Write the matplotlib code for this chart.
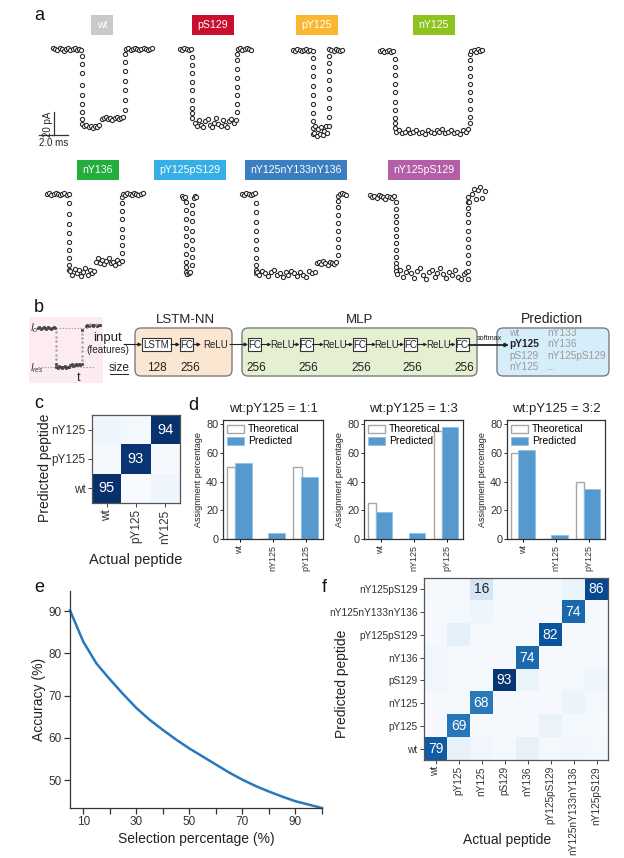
import matplotlib
matplotlib.use('Agg')
import matplotlib.pyplot as plt
import numpy as np
from matplotlib.patches import FancyBboxPatch, Rectangle

plt.rcParams['font.family'] = ['Liberation Sans', 'DejaVu Sans']
plt.rcParams['mathtext.fontset'] = 'custom'
plt.rcParams['mathtext.it'] = 'Liberation Sans:italic'

W, H = 624, 858

# ================= DATA =================
# ---- panel a: example translocation events (time in ms, current in pA relative to open pore)
a_labels = ['wt', 'pS129', 'pY125', 'nY125', 'nY136', 'pY125pS129', 'nY125nY133nY136', 'nY125pS129']
a_colors = ['#c9c9c9', '#c8102e', '#fbb731', '#8dc21f', '#22ad3c', '#35afe6', '#3b7fc2', '#b35ea6']

wt_t = [0, 0.15, 0.3, 0.45, 0.6, 0.75, 0.9, 1.05, 1.2, 1.35, 1.5, 1.65, 1.8, 1.95,
        1.97, 1.97, 1.97, 1.97, 1.97, 1.97, 1.97, 1.97,
        2.0, 2.15, 2.3, 2.45, 2.6, 2.75, 2.9, 3.05, 3.2,
        3.35, 3.5, 3.65, 3.8, 3.95, 4.1, 4.25, 4.4, 4.55, 4.7, 4.85,
        4.97, 4.97, 4.97, 4.97, 4.97, 4.97, 4.97,
        5.05, 5.2, 5.35, 5.5, 5.65, 5.8, 5.95, 6.1, 6.25, 6.4, 6.55, 6.7, 6.85]
wt_i = [1, 0, -1, 1, 0, -2, 0, 1, -1, 0, 1, -1, 0, -1,
        -6, -13, -21, -31, -40, -48, -55, -61,
        -65, -67, -66, -68, -67, -69, -67, -68, -66,
        -61, -60, -59, -61, -60, -62, -60, -59, -61, -60, -59,
        -53, -44, -36, -28, -19, -11, -4,
        0, 1, -1, 0, 1, 0, -1, 0, 1, 0, -1, 0, 1]

pS129_t = [0, 0.15, 0.3, 0.45, 0.6, 0.75,
           0.82, 0.82, 0.82, 0.82, 0.82, 0.82, 0.82, 0.82,
           0.85, 1.0, 1.15, 1.3, 1.45, 1.6, 1.75, 1.9, 2.05, 2.2, 2.35, 2.5, 2.65, 2.8, 2.95, 3.1,
           3.25, 3.4, 3.55, 3.7, 3.85,
           3.95, 3.95, 3.95, 3.95, 3.95, 3.95, 3.95, 3.95,
           4.0, 4.15, 4.3, 4.45, 4.6, 4.75, 4.9]
pS129_i = [0, -1, 1, 0, -1, 0,
           -7, -14, -21, -29, -36, -44, -51, -56,
           -60, -64, -67, -62, -66, -68, -63, -61, -66, -68, -64, -60, -65, -67, -62, -66,
           -68, -63, -61, -64, -62,
           -55, -48, -40, -33, -25, -17, -10, -4,
           0, 1, -1, 0, 1, 0, -1]

pY125_t = [0, 0.15, 0.3, 0.45, 0.6, 0.75, 0.9, 1.05, 1.2, 1.35,
           1.4, 1.4, 1.4, 1.4, 1.4, 1.4, 1.4, 1.4, 1.4, 1.4,
           1.45, 1.55, 1.65, 1.75, 1.85, 1.95, 2.05, 2.15, 2.25, 2.35,
           2.45, 2.45, 2.45, 2.45, 2.45, 2.45, 2.45, 2.45, 2.45,
           2.5, 2.65, 2.8, 2.95, 3.1, 3.25, 3.4]
pY125_i = [0, -1, 1, 0, -1, 0, 1, -1, 0, -1,
           -7, -15, -23, -31, -39, -47, -55, -62, -68, -73,
           -72, -66, -75, -69, -73, -67, -74, -70, -66, -72,
           -66, -58, -50, -42, -34, -26, -18, -11, -5,
           1, 0, -1, 1, 0, -1, 0]

nY125_t = [0, 0.15, 0.3, 0.45, 0.6, 0.75, 0.9,
           1.05, 1.05, 1.05, 1.05, 1.05, 1.05, 1.05, 1.05, 1.05, 1.05,
           1.1, 1.3, 1.5, 1.7, 1.9, 2.1, 2.3, 2.5, 2.7, 2.9, 3.1, 3.3, 3.5, 3.7, 3.9, 4.1,
           4.3, 4.5, 4.7, 4.9, 5.1, 5.3, 5.5, 5.7, 5.9, 6.1,
           6.2, 6.2, 6.2, 6.2, 6.2, 6.2, 6.2, 6.2, 6.2, 6.2,
           6.3, 6.45, 6.6, 6.75, 6.9, 7.05]
nY125_i = [0, 1, -1, 0, 1, -1, 0,
           -7, -14, -21, -29, -36, -44, -51, -58, -63, -67,
           -70, -69, -71, -70, -68, -71, -70, -69, -71, -70, -72, -69, -70, -71, -69, -70,
           -68, -71, -70, -69, -71, -70, -72, -69, -70, -68,
           -63, -57, -50, -43, -36, -29, -22, -15, -8, -3,
           0, 1, -1, 2, 0, 1]

nY136_t = [0, 0.15, 0.3, 0.45, 0.6, 0.75, 0.9, 1.05, 1.2, 1.35, 1.5,
           1.55, 1.55, 1.55, 1.55, 1.55, 1.55, 1.55, 1.55, 1.55,
           1.6, 1.75, 1.9, 2.05, 2.2, 2.35, 2.5, 2.65, 2.8, 2.95, 3.1, 3.25,
           3.35, 3.5, 3.65, 3.8, 3.95, 4.1, 4.25, 4.4, 4.55, 4.7, 4.85, 5.0, 5.15,
           5.2, 5.2, 5.2, 5.2, 5.2, 5.2, 5.2, 5.2,
           5.25, 5.4, 5.55, 5.7, 5.85, 6.0, 6.15, 6.3, 6.45, 6.6]
nY136_i = [0, 1, -1, 0, 1, 0, -1, 0, 1, -1, 0,
           -8, -17, -26, -34, -42, -49, -56, -62, -66,
           -67, -70, -65, -69, -66, -71, -68, -64, -70, -66, -69, -67,
           -59, -56, -60, -57, -61, -58, -56, -60, -59, -62, -57, -60, -58,
           -51, -44, -37, -30, -22, -15, -8, -3,
           0, -1, 1, 0, -1, 1, 0, -1, 0, 1]

pY125pS129_t = [0, 0.1, 0.2,
                0.28, 0.28, 0.28, 0.28, 0.28, 0.28, 0.28, 0.28, 0.28, 0.28,
                0.35, 0.45, 0.55,
                0.7, 0.7, 0.7, 0.7, 0.7, 0.7, 0.7, 0.7,
                0.8, 0.9, 1.0]
pY125pS129_i = [0, -2, -1,
                -5, -12, -20, -28, -35, -43, -50, -57, -62, -66,
                -68, -67, -66,
                -60, -53, -46, -38, -30, -22, -15, -8,
                -2, 0, -1]

nY125nY133nY136_t = [0, 0.15, 0.3, 0.45, 0.6, 0.75, 0.9,
                     0.95, 0.95, 0.95, 0.95, 0.95, 0.95, 0.95, 0.95, 0.95, 0.95,
                     1.0, 1.2, 1.4, 1.6, 1.8, 2.0, 2.2, 2.4, 2.6, 2.8, 3.0, 3.2, 3.4, 3.6, 3.8,
                     4.0, 4.2, 4.4, 4.6, 4.8, 5.0,
                     5.15, 5.3, 5.45, 5.6, 5.75, 5.9, 6.05, 6.2, 6.35, 6.5,
                     6.6, 6.6, 6.6, 6.6, 6.6, 6.6, 6.6, 6.6, 6.6,
                     6.75, 6.9, 7.05, 7.2]
nY125nY133nY136_i = [0, -1, 1, 0, -1, 0, 1,
                     -8, -16, -24, -32, -40, -48, -56, -62, -66, -69,
                     -68, -70, -67, -69, -71, -68, -66, -70, -69, -72, -68, -70, -67, -69, -71,
                     -68, -70, -72, -67, -69, -68,
                     -60, -59, -61, -58, -60, -62, -59, -60, -61, -59,
                     -53, -46, -39, -32, -25, -18, -11, -6, -2,
                     0, 1, 0, -1]

nY125pS129_t = [0, 0.15, 0.3, 0.45, 0.6, 0.75, 0.9, 1.05, 1.2, 1.35, 1.5, 1.65,
                1.8, 1.8, 1.8, 1.8, 1.8, 1.8, 1.8, 1.8, 1.8, 1.8, 1.8, 1.8,
                1.85, 2.05, 2.25, 2.45, 2.65, 2.85, 3.05, 3.25, 3.45, 3.65, 3.85, 4.05, 4.25,
                4.45, 4.65, 4.85, 5.05, 5.25, 5.45, 5.65, 5.85, 6.05, 6.25, 6.45, 6.65,
                6.75, 6.75, 6.75, 6.75, 6.75, 6.75, 6.75, 6.75, 6.75, 6.75, 6.75, 6.75,
                6.85, 7.0, 7.15, 7.3, 7.45, 7.6, 7.75, 7.9]
nY125pS129_i = [1, -1, 0, -2, 1, 0, -1, -3, 0, -1, -2, 0,
                -5, -11, -17, -23, -29, -35, -41, -47, -53, -58, -62, -65,
                -68, -64, -70, -66, -62, -67, -71, -65, -63, -69, -72, -66, -64,
                -70, -67, -63, -68, -71, -66, -69, -64, -70, -72, -68, -66,
                -72, -65, -58, -51, -44, -37, -30, -23, -16, -10, -5, -1,
                -5, 2, 6, -3, 5, 8, -2, 4]

scale_pA = 20
scale_ms = 2.0

# ---- panel b: schematic event and network
mini_t = [0, 0.1, 0.2, 0.3, 0.4, 0.5, 0.6, 0.7, 0.8, 0.9, 1.0, 1.1, 1.2,
          1.25, 1.25, 1.25, 1.25, 1.25, 1.25, 1.25, 1.25,
          1.3, 1.4, 1.5, 1.6, 1.7, 1.8, 1.9, 2.0, 2.1, 2.2, 2.3, 2.4, 2.5, 2.6, 2.7, 2.8, 2.9, 3.0, 3.1,
          3.15, 3.15, 3.15, 3.15, 3.15, 3.15, 3.15, 3.15,
          3.4, 3.5, 3.6, 3.7, 3.8, 3.9, 4.0, 4.1, 4.2, 4.3, 4.4]
mini_i = [0, 1, -1, 0, 1, 0, -1, 1, 0, -1, 0, 1, 0,
          -4, -8, -12, -16, -20, -24, -28, -32,
          -35, -36, -34, -35, -36, -35, -34, -36, -35, -35, -33, -32, -34, -33, -32, -33, -32, -33, -32,
          -29, -25, -21, -17, -13, -9, -5, -2,
          2, 3, 2, 4, 3, 2, 3, 4, 2, 3, 3]
I0_level = 0
Ires_level = -35
lstm_sizes = ['128', '256']
mlp_sizes = ['256', '256', '256', '256', '256']
pred_col1 = ['wt', 'pY125', 'pS129', 'nY125']
pred_col2 = ['nY133', 'nY136', 'nY125pS129', '...']
pred_selected = 'pY125'

# ---- panel c
c_labels = ['wt', 'pY125', 'nY125']
c_matrix = [[95, 0, 4],      # predicted wt
            [1, 93, 1],      # predicted pY125
            [4, 2, 94]]      # predicted nY125

# ---- panel d
d_categories = ['wt', 'nY125', 'pY125']
d_titles = ['wt:pY125 = 1:1', 'wt:pY125 = 1:3', 'wt:pY125 = 3:2']
d_theoretical = [[50, 0, 50], [25, 0, 75], [60, 0, 40]]
d_predicted = [[53, 4, 43], [19, 4, 78], [62, 3, 35]]

# ---- panel e
sel_pct = [5, 10, 15, 20, 25, 30, 35, 40, 45, 50, 55, 60, 65, 70, 75, 80, 85, 90, 95, 100]
accuracy = [90.2, 82.8, 77.6, 73.9, 70.4, 67.1, 64.3, 61.9, 59.6, 57.5,
            55.6, 53.7, 51.8, 50.1, 48.6, 47.3, 46.1, 45.0, 44.2, 43.4]

# ---- panel f
f_labels = ['wt', 'pY125', 'nY125', 'pS129', 'nY136', 'pY125pS129', 'nY125nY133nY136', 'nY125pS129']
f_matrix = [[79, 7, 3, 2, 7, 2, 3, 2],
            [1, 69, 1, 1, 1, 6, 2, 1],
            [1, 2, 68, 1, 1, 1, 5, 2],
            [3, 1, 2, 93, 6, 1, 2, 4],
            [3, 1, 1, 1, 74, 1, 1, 1],
            [1, 8, 1, 1, 1, 82, 1, 1],
            [1, 2, 4, 1, 1, 1, 74, 1],
            [2, 1, 16, 2, 1, 2, 5, 86]]

# ================= FIGURE =================
fig = plt.figure(figsize=(W / 100, H / 100), dpi=100)


def px(x0, y0, x1, y1):
    return [x0 / W, 1 - y1 / H, (x1 - x0) / W, (y1 - y0) / H]


ov = fig.add_axes([0, 0, 1, 1], zorder=0)
ov.set_xlim(0, W)
ov.set_ylim(H, 0)
ov.axis('off')

TXT = '#222222'

# panel letters
for lab, (x, y) in zip('abcdef', [(34, 16), (34, 307), (34, 404), (188, 405), (34, 587), (322, 587)]):
    ov.text(x, y, lab, fontsize=13, ha='left', va='center', color='#111')

# ---------------- panel a ----------------
PX_MS = 14.5
PX_PA = 1.15
traces = [(wt_t, wt_i), (pS129_t, pS129_i), (pY125_t, pY125_i), (nY125_t, nY125_i),
          (nY136_t, nY136_i), (pY125pS129_t, pY125pS129_i),
          (nY125nY133nY136_t, nY125nY133nY136_i), (nY125pS129_t, nY125pS129_i)]
trace_pos = [(53, 49), (180, 49), (293, 50), (380, 51),
             (47, 194), (182, 196), (242, 194), (370, 196)]
label_pos = [(102, 25), (213, 25), (317, 25), (434, 25),
             (98, 170), (190, 170), (296, 170), (424, 170)]

for (t, i), (xl, yb) in zip(traces, trace_pos):
    tmax = max(t)
    ax = fig.add_axes(px(xl - 5, yb - 12, xl + tmax * PX_MS + 5, yb + 95), zorder=2)
    ax.set_xlim(-5 / PX_MS, tmax + 5 / PX_MS)
    ax.set_ylim(-95 / PX_PA, 12 / PX_PA)
    ax.plot(t, i, 'o', ms=3.0, mfc='white', mec='#2e2e2e', mew=0.8, clip_on=False)
    ax.axis('off')

for lab, col, (x, y) in zip(a_labels, a_colors, label_pos):
    ov.text(x, y, lab, fontsize=7.6, color='white', ha='center', va='center',
            bbox=dict(boxstyle='square,pad=0.5', fc=col, ec='none'))

# scale bar
sb_x, sb_y = 54, 135
ov.plot([sb_x, sb_x], [sb_y, sb_y - scale_pA * PX_PA], color='#333', lw=0.9)
ov.plot([sb_x - 15, sb_x - 15 + scale_ms * PX_MS], [sb_y, sb_y], color='#333', lw=0.9)
ov.text(sb_x - 6, sb_y - 11, f'{scale_pA} pA', rotation=90, fontsize=7, ha='center', va='center', color=TXT)
ov.text(sb_x, sb_y + 8, f'{scale_ms:.1f} ms', fontsize=7, ha='center', va='center', color=TXT)

# ---------------- panel b ----------------
ov.add_patch(Rectangle((29, 317), 74, 66, fc='#fdecef', ec='none', zorder=0))
mx0, mx1, my0, my1 = 36, 102, 318, 375
mini_px_ms = 14.1
mini_px_pa = 39 / 35
axm = fig.add_axes(px(mx0, my0, mx1, my1), zorder=2)
axm.set_xlim(-2 / mini_px_ms, -2 / mini_px_ms + (mx1 - mx0) / mini_px_ms)
axm.set_ylim(I0_level - (my1 - 328) / mini_px_pa, I0_level + (328 - my0) / mini_px_pa)
axm.plot([1.25, 3.6], [I0_level, I0_level], ls=(0, (1.2, 1.5)), color='#9a9a9a', lw=0.8)
axm.plot([0.0, 4.0], [Ires_level, Ires_level], ls=(0, (1.2, 1.5)), color='#9a9a9a', lw=0.8)
mt = np.array(mini_t)
mi = np.array(mini_i)
trans = np.array([abs(v - I0_level) > 3 and abs(v - Ires_level) > 3.5 for v in mini_i])
axm.plot(mt[~trans], mi[~trans], 'o', ms=1.8, mfc='#555', mec='#333', mew=0.4, clip_on=False)
axm.plot(mt[trans], mi[trans], 'o', ms=1.4, mfc='#aaa', mec='#999', mew=0.3, clip_on=False)
axm.axis('off')
ov.text(30, 328, r'$I_o$', fontsize=7.5, ha='left', va='center', color='#333')
ov.text(30, 368, r'$I_{res}$', fontsize=7, ha='left', va='center', color='#333')
ov.text(79, 378, 't', fontsize=9, ha='center', va='center', color=TXT)

ov.text(108, 338, 'input', fontsize=9.5, ha='center', va='center', color=TXT)
ov.text(108, 350, '(features)', fontsize=7.2, ha='center', va='center', color=TXT)
ov.text(119, 368, 'size', fontsize=8.5, ha='center', va='center', color=TXT)
ov.plot([110, 128], [374, 374], color=TXT, lw=0.7)


def arrow(x0, x1, y, lw=0.8, ms=5):
    ov.annotate('', xy=(x1, y), xytext=(x0, y),
                arrowprops=dict(arrowstyle='-|>', lw=lw, color='#222', mutation_scale=ms,
                                shrinkA=0, shrinkB=0))


def rbox(x0, y0, x1, y1, fc):
    ov.add_patch(FancyBboxPatch((x0, y0), x1 - x0, y1 - y0,
                                boxstyle='round,pad=0,rounding_size=6',
                                fc=fc, ec='#7d7d7d', lw=1.0, zorder=1))


def sbox(xc, w, text, yc=344.5, h=13):
    ov.add_patch(Rectangle((xc - w / 2, yc - h / 2), w, h, fc='white', ec='#333', lw=0.8, zorder=3))
    ov.text(xc, yc, text, fontsize=7, ha='center', va='center', color=TXT, zorder=4)


YB = 344.5
rbox(135, 328, 232, 376, '#fbe6d2')
rbox(242, 328, 477, 376, '#e5f0d3')
rbox(497, 328, 609, 376, '#d6eef9')
ov.text(185, 320, 'LSTM-NN', fontsize=9.5, ha='center', va='center', color=TXT)
ov.text(360, 320, 'MLP', fontsize=9.5, ha='center', va='center', color=TXT)
ov.text(552, 319, 'Prediction', fontsize=10, ha='center', va='center', color=TXT)

arrow(124, 142, YB)
sbox(156.5, 29, 'LSTM')
arrow(171, 180, YB)
sbox(186.5, 13, 'FC')
arrow(193, 201, YB)
ov.text(216, YB, 'ReLU', fontsize=7, ha='center', va='center', color=TXT)
arrow(230, 248, YB)
for xc, s in zip([157, 190], lstm_sizes):
    ov.text(xc, 368, s, fontsize=8.5, ha='center', va='center', color=TXT)

fc_centers = [254.5, 306, 359.5, 410.5, 462]
for k, xc in enumerate(fc_centers):
    sbox(xc, 13, 'FC')
    ov.text(xc + 2, 368, mlp_sizes[k], fontsize=8.5, ha='center', va='center', color=TXT)
    if k < len(fc_centers) - 1:
        rc = (xc + fc_centers[k + 1]) / 2 + 2
        arrow(xc + 6.5, rc - 11, YB, ms=4)
        ov.text(rc, YB, 'ReLU', fontsize=7, ha='center', va='center', color=TXT)
        arrow(rc + 11, fc_centers[k + 1] - 6.5, YB, ms=4)

ov.text(489, 339, 'softmax', fontsize=5.2, ha='center', va='center', color=TXT)
arrow(468.5, 509, YB + 0.5, lw=1.3, ms=5)

for k, (a, b) in enumerate(zip(pred_col1, pred_col2)):
    yy = 333 + k * 11.4
    sel = (a == pred_selected)
    ov.text(509, yy, a, fontsize=7.3, ha='left', va='center',
            color='#222' if sel else '#9a9a9a', fontweight='bold' if sel else 'normal')
    ov.text(547, yy, b, fontsize=7.3, ha='left', va='center', color='#9a9a9a')

# ---------------- heatmap helper ----------------


def heatmap(ax, M, labels, fs_tick, fs_ann):
    M = np.array(M)
    n = len(labels)
    ax.imshow(M, cmap='Blues', vmin=0, vmax=95, origin='lower', aspect='auto')
    for r in range(n):
        for c in range(n):
            v = M[r, c]
            if v >= 10:
                ax.text(c, r, str(v), ha='center', va='center', fontsize=fs_ann,
                        color='white' if v > 40 else '#222')
    ax.set_xticks(range(n))
    ax.set_yticks(range(n))
    ax.set_xticklabels(labels, rotation=90, fontsize=fs_tick, color='#333')
    ax.set_yticklabels(labels, fontsize=fs_tick, color='#333')
    ax.tick_params(length=3, width=0.7, color='#444', pad=1.5)
    for s in ax.spines.values():
        s.set_color('#555')
        s.set_linewidth(0.9)


# ---------------- panel c ----------------
axc = fig.add_axes(px(92, 415, 180, 503), zorder=2)
heatmap(axc, c_matrix, c_labels, 8.5, 10.5)
axc.set_ylabel('Predicted peptide', fontsize=10, color=TXT)
axc.yaxis.set_label_coords(-0.46, 0.40)
axc.set_xlabel('Actual peptide', fontsize=10.5, color=TXT)
axc.xaxis.set_label_coords(0.5, -0.57)

# ---------------- panel d ----------------
d_boxes = [(223, 323), (364, 463), (507, 605)]
x = np.arange(len(d_categories))
for k, (x0, x1) in enumerate(d_boxes):
    ax = fig.add_axes(px(x0, 420, x1, 539), zorder=2)
    ax.bar(x - 0.39, d_theoretical[k], width=0.25, align='edge', fc='white', ec='#a8a8a8',
           lw=1.0, label='Theoretical')
    ax.bar(x - 0.15, d_predicted[k], width=0.51, align='edge', fc='#5599cf', ec='#8cc0e8',
           lw=0.6, label='Predicted')
    ax.set_xlim(-0.5, 2.5)
    ax.set_ylim(0, 83)
    ax.set_yticks([0, 20, 40, 60, 80])
    ax.set_xticks(x)
    ax.set_xticklabels(d_categories, rotation=90, fontsize=6.5, color='#333')
    ax.tick_params(axis='y', labelsize=7.8, length=2.5, width=0.7, pad=1, colors='#333')
    ax.tick_params(axis='x', length=2.5, width=0.7, pad=2)
    for s in ax.spines.values():
        s.set_color('#333')
        s.set_linewidth(0.9)
    ax.set_title(d_titles[k], fontsize=9.5, color=TXT, pad=6)
    ax.set_ylabel('Assignment percentage', fontsize=6.5, color=TXT, labelpad=2)
    ax.legend(loc='upper left', fontsize=7.5, frameon=False, handlelength=1.6, handleheight=0.8,
              borderaxespad=0.2, labelspacing=0.2, handletextpad=0.4, borderpad=0.2)

# ---------------- panel e ----------------
axe = fig.add_axes(px(70, 591, 322, 808), zorder=2)
axe.plot(sel_pct, accuracy, color='#2a78bc', lw=1.8, clip_on=False)
axe.set_xlim(5, 100)
axe.set_ylim(43.4, 94.8)
axe.set_xticks([10, 30, 50, 70, 90])
axe.set_xticks([20, 40, 60, 80, 100], minor=True)
axe.set_yticks([50, 60, 70, 80, 90])
axe.tick_params(which='both', length=4, width=0.9, color='#333', labelsize=8.5, labelcolor='#333', pad=2)
for s in ['top', 'right']:
    axe.spines[s].set_visible(False)
for s in ['left', 'bottom']:
    axe.spines[s].set_color('#333')
    axe.spines[s].set_linewidth(0.9)
axe.set_xlabel('Selection percentage (%)', fontsize=10, color=TXT, labelpad=3)
axe.set_ylabel('Accuracy (%)', fontsize=10, color=TXT, labelpad=2)

# ---------------- panel f ----------------
axf = fig.add_axes(px(424, 578, 608, 760), zorder=2)
heatmap(axf, f_matrix, f_labels, 7.3, 10)
axf.set_ylabel('Predicted peptide', fontsize=10, color=TXT)
axf.yaxis.set_label_coords(-0.41, 0.42)
axf.set_xlabel('Actual peptide', fontsize=10, color=TXT)
axf.xaxis.set_label_coords(0.45, -0.40)

fig.savefig('out.png', dpi=100, facecolor='white')
